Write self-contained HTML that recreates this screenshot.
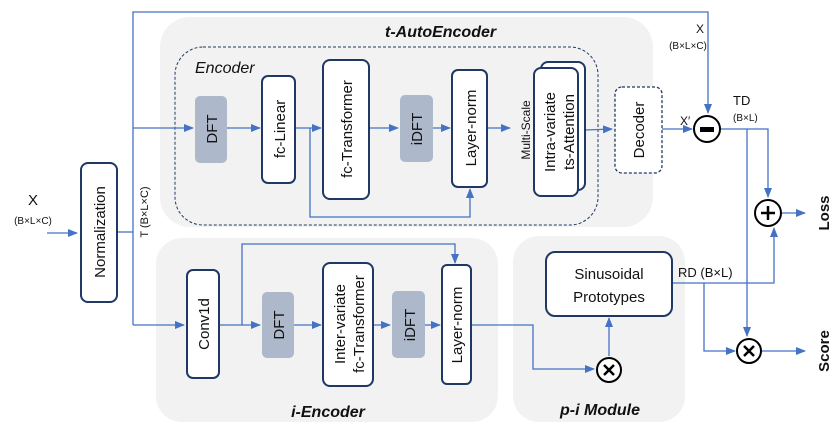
<!DOCTYPE html>
<html><head><meta charset="utf-8"><style>
html,body{margin:0;padding:0;background:#fff}
svg{display:block}
text{font-family:"Liberation Sans",sans-serif;fill:#111}
</style></head><body>
<svg width="835" height="432" viewBox="0 0 835 432" xmlns="http://www.w3.org/2000/svg">
<defs>
<marker id="a" markerWidth="10" markerHeight="8" refX="9" refY="4" orient="auto" markerUnits="userSpaceOnUse"><path d="M0,0 L10,4 L0,8 z" fill="#4472c4"/></marker>
</defs>
<!-- panels -->
<rect x="160" y="17" width="493" height="210" rx="30" fill="#f2f2f2"/>
<rect x="156" y="238" width="342" height="184" rx="26" fill="#f2f2f2"/>
<rect x="513" y="236" width="172" height="186" rx="26" fill="#f2f2f2"/>
<rect x="175" y="47" width="423" height="178" rx="28" fill="none" stroke="#1f3864" stroke-width="1" stroke-dasharray="3,2"/>
<text x="385" y="37" font-size="16" font-weight="bold" font-style="italic">t-AutoEncoder</text>
<text x="195" y="73" font-size="16" font-style="italic">Encoder</text>
<text x="328" y="417" text-anchor="middle" font-size="16" font-weight="bold" font-style="italic">i-Encoder</text>
<text x="600" y="415" text-anchor="middle" font-size="16" font-weight="bold" font-style="italic">p-i Module</text>

<g fill="none" stroke="#4472c4" stroke-width="1.3">
<line x1="47" y1="233" x2="77" y2="233" marker-end="url(#a)"/>
<polyline points="117,232 133,232"/>
<polyline points="133,325 133,12 708,12 708,113" marker-end="url(#a)"/>
<line x1="133" y1="128" x2="193" y2="128" marker-end="url(#a)"/>
<line x1="227" y1="128" x2="260" y2="128" marker-end="url(#a)"/>
<line x1="295" y1="128" x2="321" y2="128" marker-end="url(#a)"/>
<line x1="369" y1="128" x2="398" y2="128" marker-end="url(#a)"/>
<line x1="433" y1="128" x2="450" y2="128" marker-end="url(#a)"/>
<line x1="487" y1="128" x2="510" y2="128" marker-end="url(#a)"/>
<polyline points="310,128 310,217 470,217 470,189" marker-end="url(#a)"/>
<line x1="585" y1="130" x2="612" y2="129" marker-end="url(#a)"/>
<line x1="662" y1="129" x2="692" y2="129" marker-end="url(#a)"/>
<polyline points="721,129 768,129 768,197" marker-end="url(#a)"/>
<polyline points="747,129 747,336" marker-end="url(#a)"/>
<line x1="782" y1="213" x2="805" y2="213" marker-end="url(#a)"/>
<line x1="133" y1="325" x2="184" y2="325" marker-end="url(#a)"/>
<line x1="219" y1="325" x2="260" y2="325" marker-end="url(#a)"/>
<polyline points="242,325 242,244 455,244 455,263" marker-end="url(#a)"/>
<line x1="294" y1="325" x2="321" y2="325" marker-end="url(#a)"/>
<line x1="373" y1="325" x2="390" y2="325" marker-end="url(#a)"/>
<line x1="425" y1="325" x2="440" y2="325" marker-end="url(#a)"/>
<polyline points="471,325 533,325 533,369 594,369" marker-end="url(#a)"/>
<line x1="609" y1="356" x2="609" y2="318" marker-end="url(#a)"/>
<polyline points="672,283 774,283 774,228" marker-end="url(#a)"/>
<polyline points="704,283 704,351 735,351" marker-end="url(#a)"/>
<line x1="762" y1="351" x2="805" y2="351" marker-end="url(#a)"/>
</g>

<!-- boxes -->
<g stroke="#1f3864" stroke-width="2" fill="#fff">
<rect x="81" y="163" width="36" height="139" rx="7"/>
<rect x="262" y="76" width="33" height="107" rx="6"/>
<rect x="323" y="60" width="46" height="139" rx="7"/>
<rect x="452" y="70" width="35" height="117" rx="6"/>
<rect x="541" y="62" width="44" height="128" rx="7"/>
<rect x="534" y="68" width="44" height="128" rx="7"/>
<rect x="187" y="270" width="32" height="108" rx="6"/>
<rect x="323" y="263" width="50" height="123" rx="7"/>
<rect x="442" y="265" width="29" height="119" rx="5"/>
<rect x="546" y="252" width="126" height="64" rx="9"/>
</g>
<rect x="615" y="87" width="47" height="86" rx="7" fill="#fff" stroke="#1f3864" stroke-width="1.3" stroke-dasharray="3,2"/>
<g fill="#adb9ca">
<rect x="195" y="96" width="32" height="67" rx="5"/>
<rect x="400" y="95" width="33" height="67" rx="5"/>
<rect x="262" y="292" width="32" height="66" rx="5"/>
<rect x="392" y="291" width="33" height="67" rx="5"/>
</g>
<!-- circles -->
<g fill="#fff" stroke="#000" stroke-width="2">
<circle cx="707" cy="129" r="13"/>
<circle cx="768" cy="213" r="13"/>
<circle cx="609" cy="370" r="12"/>
<circle cx="749" cy="351" r="12"/>
</g>
<rect x="700" y="127" width="14" height="5" fill="#000"/>
<g stroke="#000" stroke-width="2.5">
<line x1="761" y1="213" x2="775" y2="213"/><line x1="768" y1="206" x2="768" y2="220"/>
<line x1="604" y1="365" x2="614" y2="375"/><line x1="614" y1="365" x2="604" y2="375"/>
<line x1="744" y1="346" x2="754" y2="356"/><line x1="754" y1="346" x2="744" y2="356"/>
</g>

<!-- vertical labels -->
<g font-size="15">
<text transform="translate(105,232) rotate(-90)" text-anchor="middle">Normalization</text>
<text transform="translate(217,129) rotate(-90)" text-anchor="middle">DFT</text>
<text transform="translate(285,129) rotate(-90)" text-anchor="middle">fc-Linear</text>
<text transform="translate(352,129) rotate(-90)" text-anchor="middle">fc-Transformer</text>
<text transform="translate(422,129) rotate(-90)" text-anchor="middle">iDFT</text>
<text transform="translate(476,128) rotate(-90)" text-anchor="middle">Layer-norm</text>
<text transform="translate(555,132) rotate(-90)" text-anchor="middle">Intra-variate</text>
<text transform="translate(574,132) rotate(-90)" text-anchor="middle">ts-Attention</text>
<text transform="translate(644,130) rotate(-90)" text-anchor="middle">Decoder</text>
<text transform="translate(209,324) rotate(-90)" text-anchor="middle">Conv1d</text>
<text transform="translate(284,325) rotate(-90)" text-anchor="middle">DFT</text>
<text transform="translate(345,324) rotate(-90)" text-anchor="middle">Inter-variate</text>
<text transform="translate(364,324) rotate(-90)" text-anchor="middle">fc-Transformer</text>
<text transform="translate(415,325) rotate(-90)" text-anchor="middle">iDFT</text>
<text transform="translate(462,325) rotate(-90)" text-anchor="middle">Layer-norm</text>
</g>
<text transform="translate(530,130) rotate(-90)" text-anchor="middle" font-size="12">Multi-Scale</text>
<text transform="translate(148,212) rotate(-90)" text-anchor="middle" font-size="11">T (B×L×C)</text>
<text transform="translate(829,213) rotate(-90)" text-anchor="middle" font-size="15" font-weight="bold">Loss</text>
<text transform="translate(829,351) rotate(-90)" text-anchor="middle" font-size="15" font-weight="bold">Score</text>
<text x="609" y="279" text-anchor="middle" font-size="15">Sinusoidal</text>
<text x="609" y="302" text-anchor="middle" font-size="15">Prototypes</text>
<text x="33" y="205" text-anchor="middle" font-size="15">X</text>
<text x="33" y="224" text-anchor="middle" font-size="10">(B×L×C)</text>
<text x="700" y="33" text-anchor="middle" font-size="12">X</text>
<text x="688" y="49" text-anchor="middle" font-size="10">(B×L×C)</text>
<text x="680" y="125" font-size="12">X′</text>
<text x="733" y="105" font-size="13">TD</text>
<text x="733" y="121" font-size="10">(B×L)</text>
<text x="678" y="277" font-size="13">RD (B×L)</text>
</svg>
</body></html>
